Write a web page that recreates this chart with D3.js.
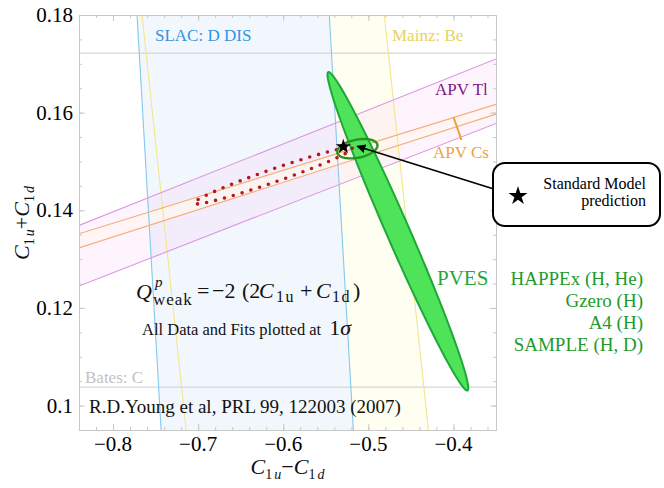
<!DOCTYPE html>
<html>
<head>
<meta charset="utf-8">
<script src="https://cdnjs.cloudflare.com/ajax/libs/d3/7.8.5/d3.min.js"></script>
<style>
  body { margin: 0; background: #fff; }
  svg { display: block; }
  svg text { font-family: "Liberation Serif", "Times New Roman", serif; }
</style>
</head>
<body>
<div id="chart"></div>
<script>
// tick marks
var xTicks = [-0.8, -0.7, -0.6, -0.5, -0.4];
var xTickLabels = ['\u22120.8', '\u22120.7', '\u22120.6', '\u22120.5', '\u22120.4'];
var yTicks = [0.1, 0.12, 0.14, 0.16, 0.18];
var yTickLabels = ['0.1', '0.12', '0.14', '0.16', '0.18'];

// band edges: two lines, each from [C1u-C1d, C1u+C1d] to [C1u-C1d, C1u+C1d]
var slacEdges  = [[[-0.7718, 0.18], [-0.7435, 0.095]], [[-0.5459, 0.18], [-0.5176, 0.095]]];
var mainzEdges = [[[-0.7659, 0.18], [-0.7141, 0.095]], [[-0.4812, 0.18], [-0.4294, 0.095]]];
var batesEdges = [[[-0.84, 0.1722], [-0.35, 0.1722]], [[-0.84, 0.1038], [-0.35, 0.1038]]];
var tlEdges    = [[[-0.84, 0.1369], [-0.35, 0.1710]], [[-0.84, 0.1245], [-0.35, 0.1578]]];
var csEdges    = [[[-0.84, 0.1352], [-0.35, 0.1617]], [[-0.84, 0.1323], [-0.35, 0.1597]]];
var csPointer  = [[-0.4, 0.1591], [-0.3906, 0.1544]];

// 1 sigma ellipses: centre and two conjugate half axes
var pvesEllipse     = {c: [-0.4653, 0.1357],  u: [-0.0818, 0.0326],  v: [0.0124, 0.00095]};
var fitEllipse      = {c: [-0.6118, 0.14708], u: [0.0929, 0.00564],  v: [0.00252, -0.00126]};
var combinedEllipse = {c: [-0.5129, 0.15262], u: [0.02353, 0.00082], v: [0.00207, -0.00181]};

var smPoint = [-0.5294, 0.15303];
var arrowTip = [-0.513, 0.1531];
var pvesSources = ['HAPPEx (H, He)', 'Gzero (H)', 'A4 (H)', 'SAMPLE (H, D)'];

!function() {
  var width = 664, height = 488;
  var pl = 79, pr = 496, pt = 15, pb = 430;
  var serif = '"Liberation Serif", "Times New Roman", serif';

  var x = d3.scaleLinear().domain([-0.84, -0.35]).range([pl, pr]);
  var y = d3.scaleLinear().domain([0.095, 0.18]).range([pb, pt]);

  var svg = d3.select('#chart').append('svg')
    .attr('width', width)
    .attr('height', height)
    .attr('font-family', serif);

  var defs = svg.append('defs');
  defs.append('clipPath').attr('id', 'plot-clip')
    .append('rect')
    .attr('x', pl).attr('y', pt)
    .attr('width', pr - pl).attr('height', pb - pt);
  defs.append('marker')
    .attr('id', 'arrow')
    .attr('viewBox', '0 0 10 10')
    .attr('refX', 9).attr('refY', 5)
    .attr('markerWidth', 9).attr('markerHeight', 9)
    .attr('markerUnits', 'userSpaceOnUse')
    .attr('orient', 'auto')
    .append('path')
    .attr('d', 'M0,0 L10,5 L0,10 Z')
    .attr('fill', '#000');

  var plot = svg.append('g').attr('clip-path', 'url(#plot-clip)');

  var line = d3.line().x(function(d) { return x(d[0]); }).y(function(d) { return y(d[1]); });

  function band(edges, fill) {
    var pts = [edges[0][0], edges[0][1], edges[1][1], edges[1][0]];
    plot.append('path')
      .attr('d', line(pts) + 'Z')
      .attr('fill', fill);
  }
  function edgeLines(edges, color, w) {
    edges.forEach(function(e) {
      plot.append('path')
        .attr('d', line(e))
        .attr('fill', 'none')
        .attr('stroke', color)
        .attr('stroke-width', w);
    });
  }

  band(mainzEdges, '#fefef1');
  band(slacEdges, '#f2f7fd');
  band(tlEdges, 'rgba(245, 180, 240, 0.15)');
  band(csEdges, 'rgba(255, 246, 240, 0.75)');

  edgeLines(batesEdges, '#d6d6d6', 1.2);
  edgeLines(slacEdges, '#86c8ec', 1.1);
  edgeLines(mainzEdges, '#f4e68a', 1.1);
  edgeLines(tlEdges, '#dc96e2', 1.1);
  edgeLines(csEdges, '#f4ae7c', 1.1);

  plot.append('path')
    .attr('d', line(csPointer))
    .attr('stroke', '#f0a030')
    .attr('stroke-width', 2)
    .attr('fill', 'none');

  // frame and ticks
  var frameColor = '#c8c8c8';
  var minorX = d3.range(-0.84, -0.349, 0.02);
  var minorY = d3.range(0.095, 0.1801, 0.005);

  function styleAxis(g) {
    g.select('.domain').attr('stroke', frameColor);
    g.selectAll('.tick line').attr('stroke', frameColor);
    g.selectAll('.tick text').remove();
  }
  function frameSide(axisFn, pos, trans) {
    svg.append('g').attr('transform', trans)
      .call(axisFn(pos).tickValues(pos === x ? minorX : minorY).tickSize(-3).tickSizeOuter(0)).call(styleAxis);
    svg.append('g').attr('transform', trans)
      .call(axisFn(pos).tickValues(pos === x ? xTicks : yTicks).tickSize(-6).tickSizeOuter(0)).call(styleAxis);
  }
  frameSide(d3.axisBottom, x, 'translate(0,' + pb + ')');
  frameSide(d3.axisTop, x, 'translate(0,' + pt + ')');
  frameSide(d3.axisLeft, y, 'translate(' + pl + ',0)');
  frameSide(d3.axisRight, y, 'translate(' + pr + ',0)');

  svg.selectAll('.x-label').data(xTicks).enter().append('text')
    .attr('x', function(d) { return x(d); })
    .attr('y', 451)
    .attr('text-anchor', 'middle')
    .attr('font-size', 21)
    .text(function(d, i) { return xTickLabels[i]; });
  svg.selectAll('.y-label').data(yTicks).enter().append('text')
    .attr('x', 73)
    .attr('y', function(d) { return y(d) + 7; })
    .attr('text-anchor', 'end')
    .attr('font-size', 21)
    .text(function(d, i) { return yTickLabels[i]; });

  // ellipses
  function ellipsePath(e) {
    var pts = d3.range(0, 120).map(function(i) {
      var t = i / 120 * 2 * Math.PI;
      return [e.c[0] + e.u[0] * Math.cos(t) + e.v[0] * Math.sin(t),
              e.c[1] + e.u[1] * Math.cos(t) + e.v[1] * Math.sin(t)];
    });
    return line(pts) + 'Z';
  }

  plot.append('path')
    .attr('d', ellipsePath(pvesEllipse))
    .attr('fill', '#4fe35a')
    .attr('stroke', '#1fa83a')
    .attr('stroke-width', 2);

  plot.append('path')
    .attr('d', ellipsePath(fitEllipse))
    .attr('fill', 'none')
    .attr('stroke', '#b3191c')
    .attr('stroke-width', 3.6)
    .attr('stroke-linecap', 'round')
    .attr('stroke-dasharray', '0 9.2');

  plot.append('path')
    .attr('d', ellipsePath(combinedEllipse))
    .attr('fill', 'none')
    .attr('stroke', '#23961f')
    .attr('stroke-width', 2.4);

  var star = d3.symbol().type(d3.symbolStar);
  plot.append('path')
    .attr('d', star.size(72)())
    .attr('transform', 'translate(' + x(smPoint[0]) + ',' + y(smPoint[1]) + ')')
    .attr('fill', '#000');

  // callout
  svg.append('line')
    .attr('x1', 497).attr('y1', 190)
    .attr('x2', x(arrowTip[0])).attr('y2', y(arrowTip[1]))
    .attr('stroke', '#000')
    .attr('stroke-width', 1.6)
    .attr('marker-end', 'url(#arrow)');
  svg.append('rect')
    .attr('x', 493).attr('y', 163)
    .attr('width', 167).attr('height', 63)
    .attr('rx', 12)
    .attr('fill', '#fff')
    .attr('stroke', '#000')
    .attr('stroke-width', 2);
  svg.append('path')
    .attr('d', star.size(112)())
    .attr('transform', 'translate(518,196)')
    .attr('fill', '#000');
  svg.append('text').attr('x', 646).attr('y', 189).attr('text-anchor', 'end')
    .attr('font-size', 16).text('Standard Model');
  svg.append('text').attr('x', 646).attr('y', 206).attr('text-anchor', 'end')
    .attr('font-size', 16).text('prediction');

  // band labels
  function label(txt, px, py, color, size) {
    return svg.append('text').attr('x', px).attr('y', py)
      .attr('fill', color).attr('font-size', size).text(txt);
  }
  label('SLAC: D DIS', 155, 41, '#2f95e0', 17);
  label('Mainz: Be', 392, 41, '#e8d260', 17);
  label('APV Tl', 435, 95, '#7d1a82', 17);
  label('APV Cs', 433, 158, '#f0a040', 17);
  label('Bates: C', 85, 383, '#c2c2c2', 17);
  label('PVES', 437, 285, '#25a83a', 21);

  svg.selectAll('.src').data(pvesSources).enter().append('text')
    .attr('x', 643)
    .attr('y', function(d, i) { return 285 + i * 22; })
    .attr('text-anchor', 'end')
    .attr('font-size', 19)
    .attr('fill', '#1f9a2c')
    .text(function(d) { return d; });

  label('R.D.Young et al, PRL 99, 122003 (2007)', 89, 413, '#111', 19);

  // formula, laid out piece by piece
  var f = svg.append('g').attr('fill', '#111');
  function piece(txt, px, py, size, italic, spacing) {
    f.append('text').attr('x', px).attr('y', py)
      .attr('font-size', size)
      .attr('font-style', italic ? 'italic' : null)
      .attr('letter-spacing', spacing || null)
      .text(txt);
  }
  piece('Q', 136, 299, 22, true);
  piece('p', 155, 287, 15, true);
  piece('weak', 153, 305, 17, false, 1);
  piece('=', 197, 298, 22, false);
  piece('\u22122', 212, 298, 22, false);
  piece('(2', 242, 298, 22, false);
  piece('C', 259, 298, 22, true);
  piece('1u', 276, 302, 16, false, 1.5);
  piece('+', 300, 298, 22, false);
  piece('C', 316, 298, 22, true);
  piece('1d', 332, 302, 16, false, 1.5);
  piece(')', 353, 298, 22, false);

  var s = svg.append('text').attr('x', 142).attr('y', 335).attr('font-size', 16.5).attr('fill', '#111');
  s.append('tspan').text('All Data and Fits plotted at ');
  s.append('tspan').attr('font-size', 22).attr('dx', 4).text('1');
  s.append('tspan').attr('font-size', 22).attr('font-style', 'italic').text('\u03c3');

  // axis titles
  function axisTitle(g, op) {
    g.append('tspan').attr('font-style', 'italic').text('C');
    g.append('tspan').attr('font-size', 14).attr('dy', 5).text('1');
    g.append('tspan').attr('font-size', 14).attr('font-style', 'italic').attr('dx', 2).text('u');
    g.append('tspan').attr('dy', -5).text(op);
    g.append('tspan').attr('font-style', 'italic').text('C');
    g.append('tspan').attr('font-size', 14).attr('dy', 5).text('1');
    g.append('tspan').attr('font-size', 14).attr('font-style', 'italic').attr('dx', 2).text('d');
  }
  var xt = svg.append('text').attr('x', (pl + pr) / 2).attr('y', 474)
    .attr('text-anchor', 'middle').attr('font-size', 22).attr('fill', '#111');
  axisTitle(xt, '\u2212');
  var yt = svg.append('text')
    .attr('transform', 'translate(29,223) rotate(-90)')
    .attr('text-anchor', 'middle').attr('font-size', 22).attr('fill', '#111');
  axisTitle(yt, '+');
}();
</script>
</body>
</html>
